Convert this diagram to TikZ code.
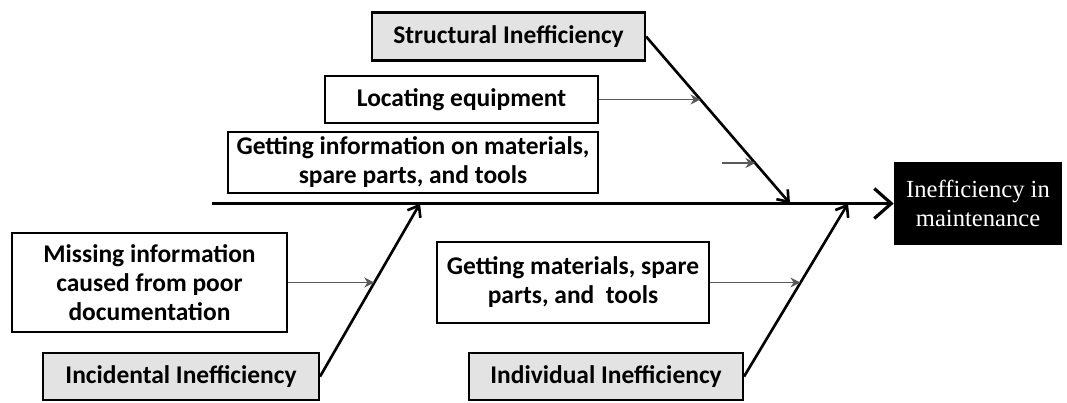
\documentclass[tikz,border=0pt]{standalone}
\usepackage{fontspec}
\setmainfont{Carlito}
\newfontfamily\effectfont{Liberation Serif}
\usetikzlibrary{arrows.meta,calc}
\newlength\px
\setlength\px{0.02cm}

\begin{document}
\begin{tikzpicture}[x=\px, y=-\px,
    cause/.style={draw, line width=1.2pt, fill=white, align=center,
      font=\fontsize{14.5}{16.5}\selectfont\bfseries, inner sep=0pt},
    category/.style={cause, fill=gray!22},
    effect/.style={fill=black, text=white, align=center, inner sep=0pt,
      font=\effectfont\fontsize{14}{16.5}\selectfont},
    spine/.style={line width=1.8pt, -{Straight Barb[length=3.4mm, width=6mm, line width=1.8pt]}},
    bone/.style={line width=1.5pt, -{Straight Barb[length=2mm, width=3mm, line width=1.5pt]}},
    sub/.style={line width=0.8pt, gray!70!black, -{Stealth[length=2mm, width=2mm]}}]
  \useasboundingbox (0,0) rectangle (1067,402);

  % Efeito e espinha principal
  \node[effect, minimum width=168\px, minimum height=83\px] (effect) at (978,203.5) {Inefficiency in\\maintenance};
  \coordinate (head) at (212,203.5);
  \draw[spine] (head) -- (effect.west);

  % Pontos das espinhas na linha principal
  \coordinate (s1) at (790,203.5);
  \coordinate (s2) at (420,203.5);
  \coordinate (s3) at (848,203.5);

  % Categorias
  \node[category, minimum width=273\px, minimum height=48\px] (struct) at (508.5,36.5) {Structural Inefficiency};
  \node[category, minimum width=276\px, minimum height=47\px] (incid) at (181,376.5) {Incidental Inefficiency};
  \node[category, minimum width=274\px, minimum height=47\px] (indiv) at (606,376.5) {Individual Inefficiency};

  % Causas
  \node[cause, minimum width=273\px, minimum height=47\px] (locate) at (461.5,99.5) {Locating equipment};
  \node[cause, minimum width=370\px, minimum height=61\px] (info) at (413,162.5) {Getting information on materials,\\spare parts, and tools};
  \node[cause, minimum width=275\px, minimum height=99\px] (missing) at (149.5,282.5) {Missing information\\caused from poor\\documentation};
  \node[cause, minimum width=272\px, minimum height=81\px] (mater) at (573,282.5) {Getting materials, spare\\parts, and~ tools};

  % Espinhas
  \draw[bone] (struct.east) -- (s1);
  \draw[bone] (incid.east) -- (s2);
  \draw[bone] (indiv.east) -- (s3);

  % Setas das causas
  \coordinate (b1) at ($(struct.east)!0.378!(s1)$);
  \coordinate (b2) at ($(struct.east)!0.76!(s1)$);
  \coordinate (b3) at ($(incid.east)!0.542!(s2)$);
  \coordinate (b4) at ($(indiv.east)!0.542!(s3)$);
  \coordinate (gap) at (722,163);
  \draw[sub] (locate.east) -- (locate.east -| b1);
  \draw[sub] (gap) -- (gap -| b2);
  \draw[sub] (missing.east) -- (missing.east -| b3);
  \draw[sub] (mater.east) -- (mater.east -| b4);
\end{tikzpicture}
\end{document}
